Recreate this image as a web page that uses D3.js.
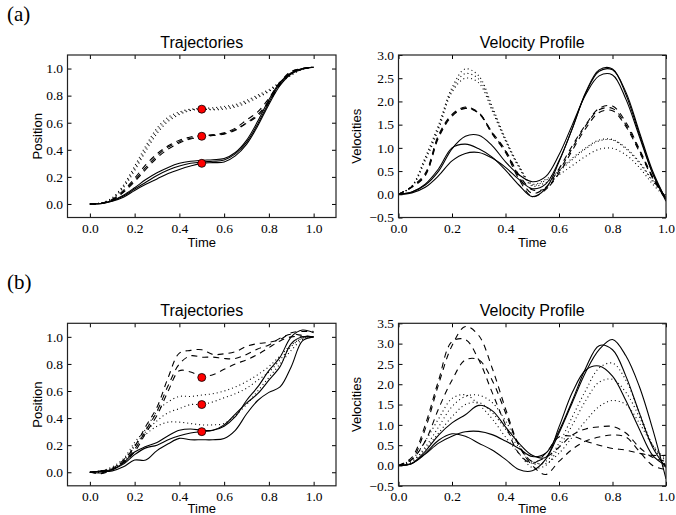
<!DOCTYPE html>
<html><head><meta charset="utf-8">
<script src="https://cdn.jsdelivr.net/npm/d3@7"></script>
<style>body{margin:0;background:#fff}svg{display:block}</style>
</head><body>
<svg id="c" width="676" height="515"></svg>
<script>
// ---------- data ----------
const times = [0,0.05,0.1,0.15,0.2,0.25,0.3,0.35,0.4,0.45,0.5,0.55,0.6,0.65,0.7,0.75,0.8,0.85,0.9,0.95,1.0];
const viaTimes = [0.5,0.5,0.5];
const viaPosA = [0.3,0.5,0.7];
const viaPosB = [0.3,0.5,0.7];

// (a) positions
const posA_solid = [
 [0,0.003,0.025,0.065,0.12,0.18,0.23,0.27,0.3,0.315,0.322,0.327,0.335,0.38,0.47,0.61,0.77,0.9,0.97,1.0,1.01],
 [0,0.003,0.022,0.058,0.11,0.16,0.21,0.25,0.28,0.3,0.31,0.315,0.325,0.37,0.455,0.59,0.75,0.89,0.965,1.0,1.01],
 [0,0.002,0.02,0.05,0.1,0.145,0.185,0.225,0.255,0.28,0.3,0.305,0.31,0.355,0.44,0.575,0.735,0.875,0.96,0.995,1.01]];
const posA_dashed = [
 [0,0.005,0.035,0.1,0.19,0.29,0.37,0.43,0.47,0.495,0.505,0.51,0.525,0.56,0.62,0.68,0.78,0.9,0.98,1.0,1.01],
 [0,0.004,0.03,0.09,0.175,0.27,0.355,0.42,0.46,0.485,0.5,0.51,0.52,0.55,0.6,0.66,0.76,0.89,0.975,1.0,1.01],
 [0,0.004,0.028,0.085,0.165,0.255,0.34,0.405,0.45,0.48,0.495,0.505,0.515,0.545,0.595,0.65,0.75,0.88,0.97,1.0,1.01]];
const posA_dotted = [
 [0,0.008,0.045,0.14,0.28,0.43,0.56,0.64,0.68,0.7,0.705,0.71,0.72,0.735,0.765,0.805,0.845,0.9,0.96,1.0,1.01],
 [0,0.007,0.04,0.13,0.26,0.41,0.54,0.625,0.67,0.695,0.7,0.7,0.71,0.725,0.755,0.795,0.835,0.895,0.955,0.995,1.01],
 [0,0.006,0.035,0.12,0.245,0.39,0.52,0.61,0.66,0.69,0.7,0.695,0.7,0.715,0.745,0.785,0.83,0.89,0.95,0.995,1.01]];

// (a) velocities
const velA_solid = [
 [0,0.05,0.2,0.5,0.98,1.25,1.27,1.05,0.7,0.42,0.27,0.38,0.85,1.5,2.15,2.55,2.57,2.05,1.25,0.45,-0.1],
 [0,0.05,0.22,0.55,1.0,1.08,0.98,0.8,0.52,0.2,-0.05,0.12,0.7,1.42,2.18,2.65,2.68,2.2,1.35,0.5,-0.12],
 [0,0.03,0.15,0.4,0.72,0.88,0.9,0.78,0.58,0.32,0.12,0.22,0.72,1.42,2.2,2.68,2.7,2.15,1.3,0.45,-0.15]];
const velA_dashed = [
 [0,0.17,0.45,1.28,1.72,1.88,1.76,1.32,0.93,0.38,0.02,0.15,0.55,1.05,1.5,1.85,1.9,1.55,0.98,0.38,-0.1],
 [0,0.16,0.42,1.25,1.7,1.86,1.74,1.3,0.9,0.33,-0.05,0.1,0.5,1.0,1.48,1.82,1.85,1.5,0.95,0.36,-0.12],
 [0,0.15,0.4,1.22,1.68,1.85,1.75,1.34,0.95,0.42,0.1,0.12,0.45,0.95,1.42,1.76,1.8,1.46,0.92,0.35,-0.1]];
const velA_dotted = [
 [0,0.18,0.8,1.5,2.3,2.7,2.55,1.9,1.2,0.62,0.22,0.32,0.52,0.78,1.0,1.17,1.18,1.0,0.7,0.3,-0.05],
 [0,0.17,0.76,1.45,2.25,2.6,2.48,1.85,1.17,0.6,0.2,0.3,0.5,0.75,0.98,1.15,1.17,0.98,0.68,0.28,-0.07],
 [0,0.16,0.72,1.4,2.2,2.5,2.4,1.8,1.15,0.58,0.18,0.25,0.42,0.62,0.82,0.97,0.99,0.85,0.58,0.22,-0.08]];

// (b) positions
const posB_solid = [
 [0,0.01,0.02,0.07,0.15,0.19,0.22,0.27,0.31,0.32,0.31,0.31,0.34,0.41,0.53,0.63,0.75,0.85,1.0,1.05,1.03],
 [0,-0.005,0.02,0.06,0.13,0.18,0.2,0.24,0.27,0.29,0.3,0.31,0.35,0.43,0.51,0.58,0.68,0.78,0.95,1.0,1.0],
 [0,0.005,0.01,0.04,0.09,0.09,0.16,0.21,0.25,0.24,0.24,0.24,0.25,0.31,0.43,0.53,0.59,0.63,0.78,0.97,1.0]];
const posB_dotted = [
 [0,0.01,0.04,0.1,0.22,0.32,0.45,0.52,0.56,0.56,0.57,0.58,0.6,0.63,0.67,0.72,0.78,0.86,0.94,0.99,1.0],
 [0,0.0,0.03,0.09,0.2,0.3,0.38,0.44,0.47,0.5,0.5,0.52,0.55,0.58,0.62,0.68,0.74,0.83,0.93,0.99,1.0],
 [0,0.01,0.03,0.08,0.19,0.28,0.34,0.37,0.37,0.36,0.35,0.35,0.36,0.42,0.5,0.6,0.7,0.8,0.9,0.98,1.0]];
const posB_dashed = [
 [0,0.01,0.03,0.09,0.19,0.34,0.48,0.7,0.88,0.9,0.905,0.87,0.875,0.89,0.93,0.95,0.96,0.98,1.03,1.04,1.04],
 [0,-0.01,0.02,0.08,0.17,0.31,0.45,0.64,0.8,0.86,0.85,0.85,0.84,0.84,0.87,0.91,0.94,0.99,1.02,1.01,1.0],
 [0,0.01,0.02,0.07,0.15,0.29,0.42,0.6,0.75,0.74,0.71,0.72,0.76,0.8,0.83,0.87,0.92,0.97,1.0,1.0,1.0]];

// (b) velocities
const velB_solid = [
 [0,0.05,0.35,0.75,1.05,1.25,1.48,1.35,0.95,0.55,0.25,0.2,0.95,1.8,2.35,2.45,2.2,1.6,0.9,0.25,0.0],
 [0,0.05,0.3,0.62,0.78,0.72,0.55,0.38,0.15,-0.1,-0.13,0.15,0.8,1.55,2.3,2.85,3.1,2.7,1.95,0.9,-0.33],
 [0,0.05,0.28,0.55,0.72,0.83,0.84,0.76,0.6,0.42,0.22,0.3,0.85,1.6,2.4,2.95,2.85,2.2,1.3,0.45,-0.05]];
const velB_dotted = [
 [0,0.1,0.45,0.95,1.45,1.7,1.73,1.55,1.1,0.5,0.05,0.1,0.55,1.2,1.85,2.4,2.52,2.1,1.3,0.5,0.0],
 [0,0.15,0.6,1.15,1.65,1.74,1.5,1.15,0.7,0.3,-0.05,0.0,0.45,1.0,1.6,2.05,2.12,1.8,1.2,0.5,0.1],
 [0,0.1,0.4,0.8,1.2,1.5,1.55,1.3,0.9,0.45,0.1,0.05,0.3,0.7,1.1,1.45,1.6,1.5,1.05,0.5,0.15]];
const velB_dashed = [
 [0,0.15,0.9,2.0,2.95,3.42,3.2,2.4,1.4,0.5,0.0,-0.22,0.1,0.4,0.6,0.7,0.75,0.7,0.35,0.0,-0.1],
 [0,0.2,1.0,2.1,3.05,3.1,2.6,1.8,1.0,0.3,0.05,0.3,0.7,0.72,0.6,0.5,0.42,0.38,0.3,0.25,0.25],
 [0,0.15,0.6,1.4,2.1,2.6,2.6,2.1,1.3,0.5,0.1,0.2,0.45,0.75,0.9,0.95,0.96,0.8,0.45,0.2,0.1]];

const posTicks = [0.0,0.2,0.4,0.6,0.8,1.0];
const timeTicks = [0.0,0.2,0.4,0.6,0.8,1.0];
const velTicksA = [-0.5,0.0,0.5,1.0,1.5,2.0,2.5,3.0];
const velTicksB = [-0.5,0.0,0.5,1.0,1.5,2.0,2.5,3.0,3.5];

// ---------- drawing ----------
const svg = d3.select('#c');
const serif = "'Liberation Serif','Times New Roman',serif";
const sans = "'Liberation Sans',Arial,sans-serif";
const styles = {solid:null, dashed:'6,5', dotted:'1,3'};

function panel(cfg){
  const {x0,x1,y0,y1,xdom,ydom,yticks,title,ylab,series,via,id,ylabX,timeDy} = cfg;
  const x = d3.scaleLinear().domain(xdom).range([x0,x1]);
  const y = d3.scaleLinear().domain(ydom).range([y1,y0]);
  const g = svg.append('g');
  g.append('clipPath').attr('id',id).append('rect')
    .attr('x',x0).attr('y',y0).attr('width',x1-x0).attr('height',y1-y0);
  const line = d3.line().x((d,i)=>x(times[i])).y(d=>y(d)).curve(d3.curveCatmullRom.alpha(0.5));
  const lg = g.append('g').attr('clip-path',`url(#${id})`);
  series.forEach(s=>{
    s.data.forEach(arr=>{
      lg.append('path').attr('d',line(arr)).attr('fill','none')
        .attr('stroke','#000').attr('stroke-width',1.1)
        .attr('stroke-dasharray',styles[s.style]);
    });
  });
  if(via){
    g.selectAll('circle.via').data(via.t).enter().append('circle')
      .attr('cx',d=>x(d)).attr('cy',(d,i)=>y(via.p[i])).attr('r',4)
      .attr('fill','#ff0000').attr('stroke','#000').attr('stroke-width',0.8);
  }
  const fmt = d3.format('.1f');
  const bx = g.append('g').attr('transform',`translate(0,${y1})`)
    .call(d3.axisBottom(x).tickValues(timeTicks).tickFormat(fmt).tickSizeInner(-4).tickSizeOuter(0).tickPadding(5.5));
  const tx = g.append('g').attr('transform',`translate(0,${y0})`)
    .call(d3.axisTop(x).tickValues(timeTicks).tickFormat('').tickSizeInner(-4).tickSizeOuter(0));
  const ly = g.append('g').attr('transform',`translate(${x0},0)`)
    .call(d3.axisLeft(y).tickValues(yticks).tickFormat(fmt).tickSizeInner(-4).tickSizeOuter(0).tickPadding(4.5));
  const ry = g.append('g').attr('transform',`translate(${x1},0)`)
    .call(d3.axisRight(y).tickValues(yticks).tickFormat('').tickSizeInner(-4).tickSizeOuter(0));
  [bx,tx,ly,ry].forEach(a=>{
    a.attr('font-family',serif).attr('font-size',13.5);
    a.select('.domain').remove();
    a.selectAll('line').attr('stroke','#000').attr('stroke-width',1);
    a.selectAll('text').attr('font-family',serif).attr('font-size',13.5).attr('fill','#000');
  });
  g.append('rect').attr('x',x0).attr('y',y0).attr('width',x1-x0).attr('height',y1-y0)
    .attr('fill','none').attr('stroke','#222').attr('stroke-width',1.2);
  g.append('text').attr('x',(x0+x1)/2).attr('y',y0-7).attr('text-anchor','middle')
    .attr('font-family',sans).attr('font-size',16).text(title);
  g.append('text').attr('x',(x0+x1)/2).attr('y',y1+timeDy).attr('text-anchor','middle')
    .attr('font-family',sans).attr('font-size',13).text('Time');
  g.append('text').attr('transform',`translate(${ylabX},${(y0+y1)/2}) rotate(-90)`)
    .attr('text-anchor','middle').attr('font-family',sans).attr('font-size',13).text(ylab);
}

const L = {x0:67.5,x1:336}, R = {x0:398.5,x1:666};
const A = {y0:55,y1:217.5,timeDy:29}, B = {y0:323.3,y1:485.8,timeDy:27.5};

svg.append('text').attr('x',7).attr('y',21).attr('font-family',serif).attr('font-size',21).text('(a)');
svg.append('text').attr('x',7).attr('y',288.5).attr('font-family',serif).attr('font-size',21).text('(b)');

panel({id:'c1',...L,...A,xdom:[-0.1,1.1],ydom:[-0.1,1.1],yticks:posTicks,title:'Trajectories',ylab:'Position',ylabX:41.5,
  series:[{style:'solid',data:posA_solid},{style:'dashed',data:posA_dashed},{style:'dotted',data:posA_dotted}],
  via:{t:viaTimes,p:viaPosA}});
panel({id:'c2',...R,...A,xdom:[0,1],ydom:[-0.5,3.0],yticks:velTicksA,title:'Velocity Profile',ylab:'Velocities',ylabX:360.5,
  series:[{style:'solid',data:velA_solid},{style:'dashed',data:velA_dashed},{style:'dotted',data:velA_dotted}]});
panel({id:'c3',...L,...B,xdom:[-0.1,1.1],ydom:[-0.1,1.1],yticks:posTicks,title:'Trajectories',ylab:'Position',ylabX:41.5,
  series:[{style:'solid',data:posB_solid},{style:'dashed',data:posB_dashed},{style:'dotted',data:posB_dotted}],
  via:{t:viaTimes,p:viaPosB}});
panel({id:'c4',...R,...B,xdom:[0,1],ydom:[-0.5,3.5],yticks:velTicksB,title:'Velocity Profile',ylab:'Velocities',ylabX:360.5,
  series:[{style:'solid',data:velB_solid},{style:'dashed',data:velB_dashed},{style:'dotted',data:velB_dotted}]});
</script>
</body></html>
